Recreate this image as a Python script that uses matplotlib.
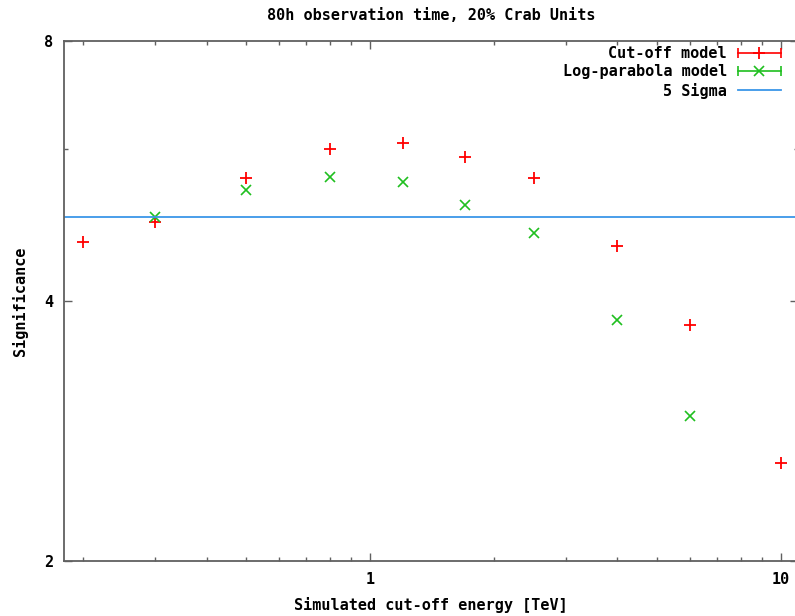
import numpy as np
import matplotlib
matplotlib.use('Agg')
import matplotlib.pyplot as plt
from matplotlib.lines import Line2D
from matplotlib.legend_handler import HandlerBase
from matplotlib.ticker import FixedLocator, FixedFormatter, NullFormatter

#Data
#--------------------------------
energy_cut = [0.2, 0.3, 0.5, 0.8, 1.2, 1.7, 2.5, 4.0, 6.0, 10.0]
sig_cut = [4.68, 4.94, 5.55, 6.00, 6.10, 5.87, 5.55, 4.63, 3.75, 2.60]

energy_logp = [0.3, 0.5, 0.8, 1.2, 1.7, 2.5, 4.0, 6.0]
sig_logp = [5.00, 5.38, 5.57, 5.49, 5.17, 4.80, 3.80, 2.94]

five_sigma = 5.0
title = '80h observation time, 20% Crab Units'
#--------------------------------

#Figure settings
#--------------------------------
W, H = 795, 616
font = 'DejaVu Sans Mono'
size_text = 10.9
axis_col = '#606060'
red = '#ff0000'; green = '#1fbf1f'; blue = '#3a96e8'


class ErrbarHandler(HandlerBase):
    # legend sample: horizontal bar with end caps and the point symbol in the middle
    def create_artists(self, legend, orig_handle, xdescent, ydescent,
                       width, height, fontsize, trans):
        y = height / 2 - ydescent
        x0, x1 = -xdescent, width - xdescent
        c = orig_handle.get_color()
        bar = Line2D([x0, x1], [y, y], color=c, lw=1.2)
        caps = Line2D([x0, x1], [y, y], ls='none', marker='|', ms=7, mew=1.2, color=c)
        pt = Line2D([(x0 + x1) / 2], [y], ls='none', marker=orig_handle.get_marker(),
                    ms=orig_handle.get_markersize(), mew=orig_handle.get_markeredgewidth(), color=c)
        for a in (bar, caps, pt):
            a.set_transform(trans)
        return [bar, caps, pt]


fig = plt.figure(figsize=(W / 100, H / 100), dpi=100)
ax = fig.add_axes([64 / W, 1 - 561 / H, (798 - 64) / W, (561 - 41) / H])

#Plots
#--------------------------------
p_cut, = ax.plot(energy_cut, sig_cut, ls='none', marker='+', ms=8, mew=1.3,
                 color=red, label='Cut-off model', clip_on=False)
p_logp, = ax.plot(energy_logp, sig_logp, ls='none', marker='x', ms=6.5, mew=1.2,
                  color=green, label='Log-parabola model')
p_sig = ax.axhline(five_sigma, color=blue, lw=1.3, label='5 Sigma')

#Axes
ax.set_xscale('log')
ax.set_yscale('log', base=2)
ax.set_xlim(0.18, 11)
ax.set_ylim(2, 8)

ax.xaxis.set_major_locator(FixedLocator([1, 10]))
ax.xaxis.set_major_formatter(FixedFormatter(['1', '10']))
ax.xaxis.set_minor_locator(FixedLocator([0.2, 0.3, 0.4, 0.5, 0.6, 0.7, 0.8, 0.9,
                                         2, 3, 4, 5, 6, 7, 8, 9]))
ax.xaxis.set_minor_formatter(NullFormatter())
ax.yaxis.set_major_locator(FixedLocator([2, 4, 8]))
ax.yaxis.set_major_formatter(FixedFormatter(['2', '4', '8']))
ax.yaxis.set_minor_locator(FixedLocator([6]))
ax.yaxis.set_minor_formatter(NullFormatter())

ax.tick_params(which='both', direction='in', top=True, right=True, color=axis_col,
               labelsize=size_text, pad=8)
ax.tick_params(which='major', length=6, width=1)
ax.tick_params(which='minor', length=3, width=1)
for lab in ax.get_xticklabels() + ax.get_yticklabels():
    lab.set_fontfamily(font); lab.set_fontweight('bold')
for s in ax.spines.values():
    s.set_color(axis_col); s.set_linewidth(1.3)

#Labels
ax.set_xlabel('Simulated cut-off energy [TeV]', fontsize=size_text, family=font,
              weight='bold', labelpad=7)
ax.set_ylabel('Significance', fontsize=size_text, family=font, weight='bold', labelpad=11)
ax.set_title(title, fontsize=size_text, family=font, weight='bold', pad=15)

#Legend
leg = ax.legend(handles=[p_cut, p_logp, p_sig], loc='upper right',
                bbox_to_anchor=(781 / W, 1 - 46 / H), bbox_transform=fig.transFigure,
                frameon=False, markerfirst=False, handlelength=2.85, handletextpad=0.73,
                labelspacing=0.22, borderpad=0, borderaxespad=0,
                prop={'family': font, 'weight': 'bold', 'size': size_text},
                handler_map={p_cut: ErrbarHandler(), p_logp: ErrbarHandler()})

#save fig
fig.savefig('out.png', dpi=100)
